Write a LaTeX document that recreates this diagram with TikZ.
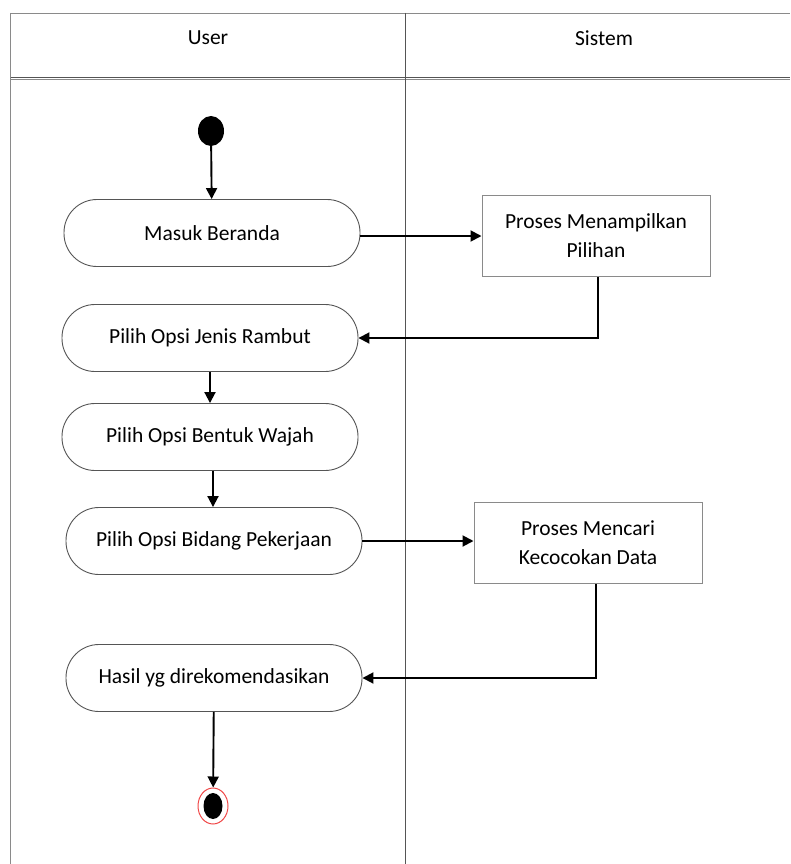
\documentclass[tikz,border=0pt]{standalone}
\usepackage{fontspec}
\setmainfont{Carlito}
\usepackage{xcolor}
\usetikzlibrary{arrows.meta, shapes.geometric}

\definecolor{lanegray}{HTML}{8A8A8A}
\definecolor{boxgray}{HTML}{555555}
\definecolor{endred}{HTML}{F04848}

\tikzset{
  act/.style={draw=boxgray, line width=0.9pt, rounded corners=33pt,
    minimum width=296pt, minimum height=67pt, font=\fontsize{21.5}{26}\selectfont},
  proc/.style={draw=lanegray, line width=1pt, minimum width=228pt,
    minimum height=81pt, align=center, font=\fontsize{21.5}{29}\selectfont},
  flow/.style={draw=black, line width=1.9pt, -{Triangle[length=11pt,width=11pt]}},
  lane/.style={draw=lanegray, line width=0.9pt}
}

\begin{document}
\begin{tikzpicture}[x=1pt, y=-1pt]
  \useasboundingbox (0,0) rectangle (790,864);
  % Swimlanes
  \draw[lane] (10,13) -- (790,13);
  \draw[lane, draw=boxgray] (10,77) -- (790,77);
  \draw[lane] (10,79) -- (790,79);
  \draw[lane] (10,13) -- (10,864);
  \draw[lane, draw=boxgray] (405,13) -- (405,864);
  \node (user) at (208,38) {\fontsize{21.5}{26}\selectfont User};
  \node (sistem) at (604,38) {\fontsize{21.5}{26}\selectfont Sistem};

  % User lane
  \node[ellipse, fill=black, minimum width=26pt, minimum height=30pt, inner sep=0pt] (start) at (211,131) {};
  \node[act] (beranda) at (212,233) {Masuk Beranda};
  \node[act] (rambut) at (210,338) {Pilih Opsi Jenis Rambut};
  \node[act] (wajah) at (210,437) {Pilih Opsi Bentuk Wajah};
  \node[act] (kerja) at (214,541) {Pilih Opsi Bidang Pekerjaan};
  \node[act] (hasil) at (214,678) {Hasil yg direkomendasikan};
  \node[ellipse, draw=endred, line width=1pt, minimum width=30pt, minimum height=36pt, inner sep=0pt] (stop) at (213,806) {};
  \node[ellipse, fill=black, minimum width=19pt, minimum height=26pt, inner sep=0pt] (stopdot) at (213,806) {};

  % Sistem lane
  \node[proc] (tampil) at (596,236) {Proses Menampilkan\\Pilihan};
  \node[proc] (cari) at (588,543) {Proses Mencari\\Kecocokan Data};

  % Flows
  \draw[flow] (start) -- (beranda);
  \draw[flow] (beranda.east |- tampil.west) -- (tampil.west);
  \draw[flow] (tampil.south -| 598,0) |- (rambut.east);
  \draw[flow] (rambut) -- (wajah);
  \draw[flow] (wajah.south -| 213,0) -- (kerja.north -| 213,0);
  \draw[flow] (kerja.east) -- (cari.west |- kerja.east);
  \draw[flow] (cari.south -| 596,0) |- (hasil.east);
  \draw[flow] (hasil) -- (stop);
\end{tikzpicture}
\end{document}
